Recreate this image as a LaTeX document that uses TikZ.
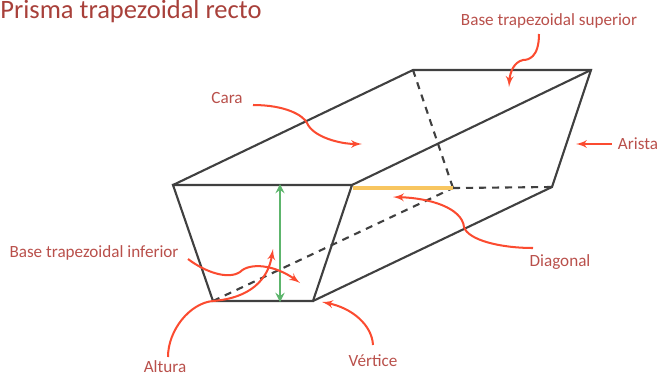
\documentclass[tikz,border=0pt]{standalone}
\usepackage{fontspec}
\setmainfont{Carlito}
\usetikzlibrary{arrows,positioning}
\definecolor{labelred}{HTML}{B9504B}
\definecolor{titlered}{HTML}{A8403A}
\definecolor{arrowred}{HTML}{FB4B30}
\definecolor{edgegray}{HTML}{404040}
\definecolor{heightgreen}{HTML}{5DB56C}
\definecolor{diagyellow}{HTML}{F8C660}
\tikzset{
  edgeline/.style={edgegray, line width=1.2pt, line cap=round},
  hiddenline/.style={edgegray, line width=1.2pt, dash pattern=on 4pt off 3.4pt},
  callout/.style={->, arrowred, line width=1.15pt},
  partlabel/.style={labelred, font=\fontsize{9.75}{11}\selectfont, inner sep=0pt},
}
\begin{document}
\begin{tikzpicture}[x=0.02cm, y=-0.02cm, >=latex']
  \useasboundingbox (0,0) rectangle (660,376);
  % vertices of the prism
  \coordinate (ftl) at (173,185);
  \coordinate (ftr) at (352,185);
  \coordinate (fbr) at (313,301);
  \coordinate (fbl) at (213,301);
  \coordinate (btl) at (413,70);
  \coordinate (btr) at (591,70);
  \coordinate (bbr) at (552,187);
  \coordinate (bbl) at (453,188);
  \coordinate (htop) at (280,184);
  \coordinate (hbot) at (280,302);
  \coordinate (dstart) at (353,188);

  % labels
  \node [anchor=base west, titlered, font=\fontsize{15.1}{17}\selectfont, inner sep=0pt] (title) at (0,18) {Prisma trapezoidal recto};
  \node [partlabel] (supl) at (549,21) {Base trapezoidal superior};
  \node [partlabel] (caral) at (227,98) {Cara};
  \node [partlabel] (aristal) at (638,144) {Arista};
  \node [partlabel] (diagl) at (560,262) {Diagonal};
  \node [partlabel] (vertl) at (373,361) {Vértice};
  \node [partlabel] (altl) at (165,367) {Altura};
  \node [partlabel] (infl) at (94,253) {Base trapezoidal inferior};

  % hidden edges
  \draw [hiddenline] (btl) -- (bbl);
  \draw [hiddenline] (bbl) -- (bbr);
  \draw [hiddenline] (fbl) -- (bbl);

  % visible edges
  \draw [edgeline] (ftl) -- (ftr) -- (fbr) -- (fbl) -- cycle;
  \draw [edgeline] (ftl) -- (btl) -- (btr) -- (bbr) -- (fbr);
  \draw [edgeline] (ftr) -- (btr);

  % height and diagonal
  \draw [<->, heightgreen, line width=1.3pt, >=stealth] (htop) -- (hbot);
  \draw [diagyellow, line width=1.8pt] (dstart) -- (bbl);

  % callouts
  \draw [callout] (253,105) .. controls (285,105) and (303,115) .. (307,123) .. controls (313,137) and (340,144) .. (362,144);
  \draw [callout] (539,34) .. controls (539,58) and (528,60) .. (523,60) .. controls (514,62) and (510,72) .. (509,87);
  \draw [callout] (aristal.west) ++(-6,0) -- (576,144);
  \draw [callout] (533,248) .. controls (500,248) and (468,240) .. (464,227) .. controls (462,208) and (430,198) .. (393,197);
  \draw [callout] (373,345) .. controls (372,325) and (352,308) .. (322,302);
  \draw [callout] (168,357) .. controls (168,330) and (190,303) .. (213,301) .. controls (250,298) and (268,280) .. (273,249);
  \draw [callout] (188,259) .. controls (205,272) and (228,280) .. (240,272) .. controls (250,262) and (275,265) .. (300,283);
\end{tikzpicture}
\end{document}
